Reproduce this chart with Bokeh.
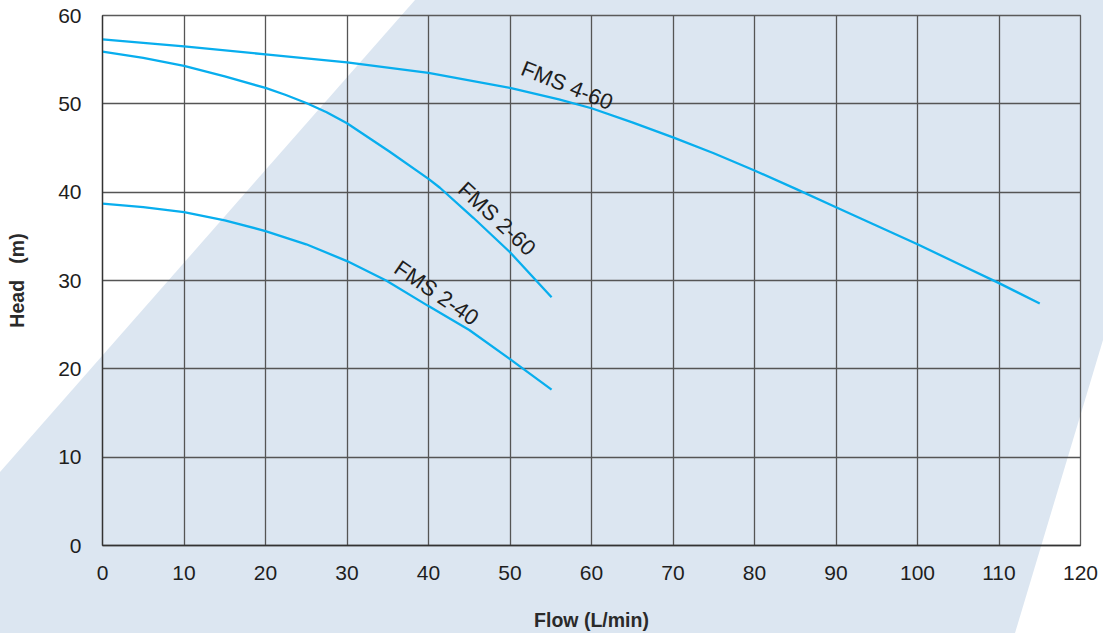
import math
from bokeh.plotting import figure
from bokeh.models import Range1d, FixedTicker, Label
from bokeh.embed import file_html
from bokeh.resources import INLINE

# ---- data ----
flow_460 = [0, 10, 20, 30, 40, 50, 56, 60, 65, 70, 75, 80, 85, 90, 95, 100, 105, 110, 115]
head_460 = [57.3, 56.5, 55.6, 54.7, 53.5, 51.8, 50.5, 49.5, 47.9, 46.2, 44.4, 42.45, 40.4,
            38.3, 36.2, 34.1, 31.9, 29.7, 27.4]

flow_260 = [0, 5, 10, 15, 20, 22.5, 25, 27.5, 30, 35.2, 40, 41.4, 45.5, 50, 55.1]
head_260 = [55.9, 55.2, 54.3, 53.1, 51.8, 51.0, 50.1, 49.05, 47.8, 44.6, 41.5, 40.5, 37.1, 33.2, 28.1]

flow_240 = [0, 5, 10, 15, 20, 25, 30, 34.8, 40, 45, 50, 55.1]
head_240 = [38.7, 38.3, 37.75, 36.8, 35.6, 34.1, 32.2, 30.0, 27.1, 24.4, 21.1, 17.65]

series_names = ["FMS 4-60", "FMS 2-60", "FMS 2-40"]
x_ticks = list(range(0, 121, 10))
y_ticks = list(range(0, 61, 10))

CURVE = "#08aeee"
FONT = "Liberation Sans"
TXT = "#1e1e1e"

W, H = 1103, 633
p = figure(width=W, height=H, output_backend="svg", toolbar_location=None,
           x_range=Range1d(0, 120), y_range=Range1d(0, 60),
           min_border_left=102, min_border_right=23, min_border_top=15, min_border_bottom=81)

bg_svg = ("data:image/svg+xml;utf8,<svg xmlns='http://www.w3.org/2000/svg' width='1103' height='633'>"
          "<polygon points='415,0 1103,0 1103,340 1015,633 0,633 0,472' fill='%23dce6f1'/></svg>")
p.styles = {"background-image": f'url("{bg_svg}")', "background-repeat": "no-repeat"}
p.border_fill_color = None
p.background_fill_color = None
p.outline_line_color = "#5a5a5a"
p.outline_line_width = 1.3

for ax in (p.xaxis[0], p.yaxis[0]):
    ax.major_tick_line_color = None
    ax.minor_tick_line_color = None
    ax.axis_line_color = "#333333"
    ax.axis_line_width = 1.3
    ax.major_label_text_font = FONT
    ax.major_label_text_font_size = "21px"
    ax.major_label_text_color = TXT
    ax.axis_label_text_font = FONT
    ax.axis_label_text_font_size = "19.5px"
    ax.axis_label_text_font_style = "bold"
    ax.axis_label_text_color = "#2a2a2a"

p.xaxis.ticker = FixedTicker(ticks=x_ticks)
p.yaxis.ticker = FixedTicker(ticks=y_ticks)
p.xaxis.major_label_standoff = 14
p.yaxis.major_label_standoff = 15
p.xaxis.axis_label = "Flow (L/min)"
p.yaxis.axis_label = "Head\u00a0\u00a0\u00a0(m)"
p.xaxis.axis_label_standoff = 26
p.yaxis.axis_label_standoff = 27

p.xgrid.ticker = FixedTicker(ticks=x_ticks)
p.ygrid.ticker = FixedTicker(ticks=y_ticks)
for g in (p.xgrid[0], p.ygrid[0]):
    g.grid_line_color = "#555555"
    g.grid_line_width = 1.3

p.line(flow_460, head_460, line_color=CURVE, line_width=2.3)
p.line(flow_260, head_260, line_color=CURVE, line_width=2.3)
p.line(flow_240, head_240, line_color=CURVE, line_width=2.3)

label_pos = [(57.0, 52.1, -22), (48.4, 37.0, -43), (41.0, 28.6, -34.5)]
for name, (lx, ly, ang) in zip(series_names, label_pos):
    p.add_layout(Label(x=lx, y=ly, text=name, angle=math.radians(ang),
                       text_align="center", text_baseline="middle",
                       text_font=FONT, text_font_size="22px", text_color=TXT))

open("out.html", "w").write(file_html(p, INLINE))
